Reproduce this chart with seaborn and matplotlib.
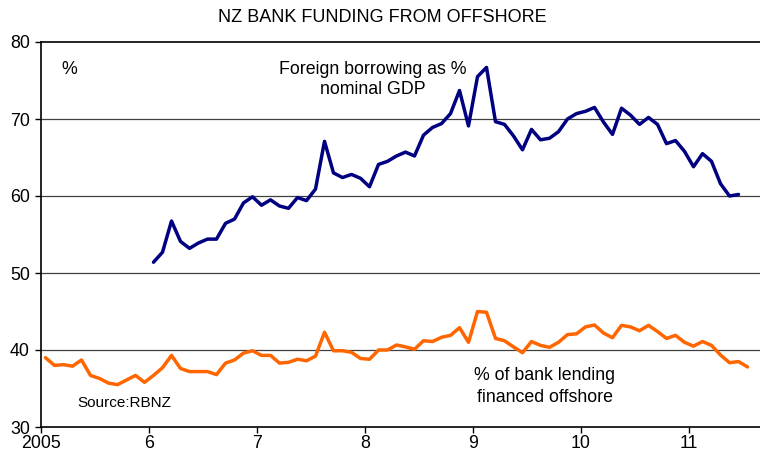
import numpy as np
import pandas as pd
import matplotlib
matplotlib.use("Agg")
import matplotlib.pyplot as plt
import seaborn as sns

# Monthly data, Jan 2005 .. Jul 2011
start_year = 2005
lending_offshore = [
    39.0, 38.0, 38.1, 37.9, 38.7, 36.7, 36.3, 35.7, 35.5, 36.1, 36.7, 35.8,
    36.7, 37.7, 39.3, 37.6, 37.2, 37.2, 37.2, 36.8, 38.3, 38.7, 39.6, 39.9,
    39.3, 39.3, 38.3, 38.4, 38.8, 38.6, 39.2, 42.3, 39.9, 39.9, 39.7, 38.9,
    38.8, 40.0, 40.0, 40.65, 40.4, 40.1, 41.2, 41.1, 41.65, 41.9, 42.9, 41.0,
    45.0, 44.9, 41.5, 41.2, 40.4, 39.65, 41.1, 40.6, 40.35, 41.0, 42.0, 42.1,
    43.0, 43.25, 42.2, 41.6, 43.2, 43.0, 42.5, 43.2, 42.4, 41.5, 41.9, 41.0,
    40.5, 41.1, 40.6, 39.35, 38.35, 38.5, 37.8,
]
# Monthly data, Jan 2006 .. Jun 2011
borrowing_start_index = 12
foreign_borrowing_gdp = [
    51.4, 52.7, 56.75, 54.1, 53.2, 53.9, 54.4, 54.4, 56.45, 57.0, 59.1, 59.9,
    58.8, 59.5, 58.7, 58.4, 59.8, 59.4, 60.9, 67.1, 63.0, 62.4, 62.8, 62.3,
    61.2, 64.1, 64.5, 65.2, 65.7, 65.2, 67.9, 68.9, 69.4, 70.7, 73.7, 69.1,
    75.5, 76.7, 69.65, 69.3, 67.8, 66.0, 68.65, 67.3, 67.5, 68.35, 70.0, 70.7,
    71.0, 71.5, 69.6, 68.0, 71.4, 70.5, 69.3, 70.2, 69.3, 66.8, 67.2, 65.8,
    63.8, 65.5, 64.5, 61.6, 60.0, 60.2,
]
x_ticks = [2005, 2006, 2007, 2008, 2009, 2010, 2011]
x_tick_labels = ["2005", "6", "7", "8", "9", "10", "11"]
y_ticks = [30, 40, 50, 60, 70, 80]

t_lend = start_year + (np.arange(len(lending_offshore)) + 0.5) / 12
t_borr = start_year + (np.arange(len(foreign_borrowing_gdp)) + borrowing_start_index + 0.5) / 12
df_lend = pd.DataFrame({"t": t_lend, "v": lending_offshore})
df_borr = pd.DataFrame({"t": t_borr, "v": foreign_borrowing_gdp})

sns.set_style("white")
plt.rcParams["font.family"] = ["Liberation Sans", "DejaVu Sans"]
plt.rcParams["text.color"] = "black"

fig = plt.figure(figsize=(7.6, 4.55), dpi=100)
ax = fig.add_axes([41 / 760, 1 - 427 / 455, 719 / 760, 385 / 455])

for y in [40, 50, 60, 70]:
    ax.axhline(y, color="#404040", lw=0.9, zorder=0)

sns.lineplot(data=df_borr, x="t", y="v", ax=ax, color="#000080", lw=2.5)
sns.lineplot(data=df_lend, x="t", y="v", ax=ax, color="#FF6600", lw=2.5)

ax.set_xlim(2005, 2005 + 719 / 108)
ax.set_ylim(30, 80)
ax.set_xticks(x_ticks)
ax.set_xticklabels(x_tick_labels)
ax.set_yticks(y_ticks)
ax.set_xlabel("")
ax.set_ylabel("")
ax.tick_params(axis="both", direction="out", length=4, width=1, color="black",
               labelsize=12.8, labelcolor="black", pad=4)
ax.tick_params(axis="x", pad=1.5)
ax.tick_params(axis="y", left=True)
ax.tick_params(axis="x", bottom=True)
for s in ["left", "bottom", "top"]:
    ax.spines[s].set_color("black")
    ax.spines[s].set_linewidth(1.2)
ax.spines["right"].set_visible(False)

fig.text(382 / 760, 1 - 18 / 455, "NZ BANK FUNDING FROM OFFSHORE", ha="center", va="center",
         fontsize=13, color="black")

def px(xp, yp):
    return (xp / 760, 1 - yp / 455)

fig.text(*px(69, 70), "%", ha="center", va="center", fontsize=12.8)
fig.text(*px(373, 70), "Foreign borrowing as %", ha="center", va="center", fontsize=12.8)
fig.text(*px(373, 90), "nominal GDP", ha="center", va="center", fontsize=12.8)
fig.text(*px(545, 376), "% of bank lending", ha="center", va="center", fontsize=12.8)
fig.text(*px(545, 397), "financed offshore", ha="center", va="center", fontsize=12.8)
fig.text(*px(77, 403), "Source:RBNZ", ha="left", va="center", fontsize=11)

fig.savefig("out.png", dpi=100)
